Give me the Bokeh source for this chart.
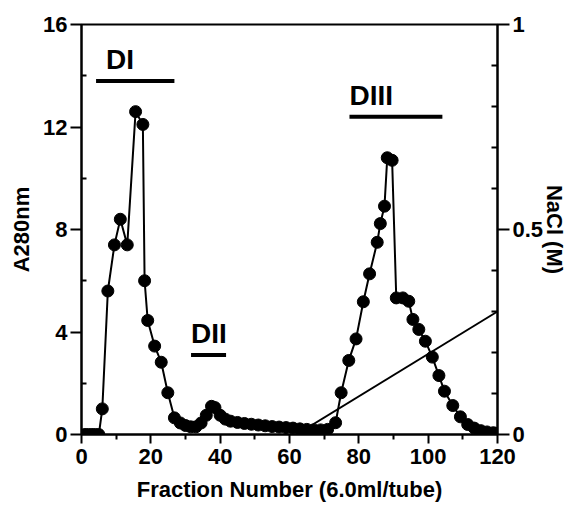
from bokeh.plotting import figure
from bokeh.models import Range1d, LinearAxis, FixedTicker, ColumnDataSource
from bokeh.core.properties import value
from bokeh.embed import file_html
from bokeh.resources import INLINE

# ---- data ----
fraction = [1, 2, 3, 4, 5, 6, 7.6, 9.5, 11.2, 13.2, 15.6, 17.7, 18.2, 19.1, 21.1, 23, 24.9, 26.8,
            28.5, 30, 31.5, 33, 34.5, 36, 37.5, 38.5, 40, 41.5, 43, 45, 47, 49, 51, 53, 55, 57,
            59, 61, 63, 65, 67, 69, 71,
            73.3, 74.9, 77.1, 79.2, 81.3, 83.1, 85.3, 86.2, 87.4, 88.2, 89.6, 90.8, 92.7, 94.4,
            95.6, 97.3, 99.2, 101.2, 103.1, 104.7, 107.1, 109.3, 111.4, 113.3, 115.2, 117, 118.8, 120]
a280 = [0, 0, 0, 0, 0, 1.0, 5.6, 7.4, 8.4, 7.4, 12.6, 12.1, 6.0, 4.45, 3.45, 2.82, 1.63, 0.65,
        0.45, 0.35, 0.3, 0.3, 0.45, 0.75, 1.1, 1.05, 0.75, 0.6, 0.52, 0.47, 0.43, 0.4, 0.37, 0.34,
        0.31, 0.29, 0.27, 0.25, 0.22, 0.2, 0.18, 0.18, 0.2,
        0.46, 1.63, 2.89, 3.73, 5.18, 6.27, 7.5, 8.23, 8.91, 10.8, 10.7, 5.33, 5.33, 5.2,
        4.49, 4.1, 3.64, 3.02, 2.3, 1.69, 1.13, 0.69, 0.39, 0.25, 0.15, 0.1, 0.07, 0.05]

nacl_fraction = [62, 120]
nacl_molar = [0.0, 0.3]

peak_names = ["DI", "DII", "DIII"]
peak_start = [4.2, 31.6, 77.3]
peak_end = [26.8, 41.7, 104.1]
peak_level = [13.8, 3.1, 12.4]

left_ticks = [0, 4, 8, 12, 16]
left_minor = [2, 6, 10, 14]
right_ticks = [0, 0.5, 1]
right_minor = [0.1, 0.2, 0.3, 0.4, 0.6, 0.7, 0.8, 0.9]
bottom_ticks = [0, 20, 40, 60, 80, 100, 120]
bottom_minor = [10, 30, 50, 70, 90, 110]

# label styling (pixel nudges, not data)
label_dx = [10, 0, 0]

FONT = "Liberation Sans"

p = figure(frame_width=416, frame_height=410, output_backend="svg", toolbar_location=None,
           x_range=Range1d(0, 120), y_range=Range1d(0, 16),
           min_border_left=81, min_border_right=60, min_border_top=24, min_border_bottom=60)
p.extra_y_ranges = {"nacl": Range1d(0, 1)}
p.grid.visible = False
p.outline_line_color = "black"
p.outline_line_width = 2
p.background_fill_color = "white"
p.border_fill_color = "white"

def style_axis(ax, tout, tin, mout, min_):
    ax.axis_line_width = 2
    ax.major_tick_line_width = 2
    ax.minor_tick_line_width = 2
    ax.major_tick_out = tout
    ax.major_tick_in = tin
    ax.minor_tick_out = mout
    ax.minor_tick_in = min_
    ax.major_label_text_font = FONT
    ax.major_label_text_font_style = "bold"
    ax.major_label_text_font_size = "22px"
    ax.major_label_text_color = "black"
    ax.axis_label_text_font = FONT
    ax.axis_label_text_font_style = "bold"
    ax.axis_label_text_font_size = "22px"
    ax.axis_label_text_color = "black"

xa = p.xaxis[0]
xa.ticker = FixedTicker(ticks=bottom_ticks, minor_ticks=bottom_minor)
xa.axis_label = "Fraction Number (6.0ml/tube)"
style_axis(xa, 9, 0, 5, 0)
xa.major_label_standoff = 5
xa.axis_label_standoff = 10

ya = p.yaxis[0]
ya.ticker = FixedTicker(ticks=left_ticks, minor_ticks=left_minor)
ya.axis_label = "A280nm"
style_axis(ya, 11, 0, 0, 5)
ya.major_label_standoff = 3
ya.axis_label_standoff = 6

ra = LinearAxis(y_range_name="nacl", axis_label="NaCl (M)",
                ticker=FixedTicker(ticks=right_ticks, minor_ticks=right_minor))
style_axis(ra, 12, 0, 0, 6)
ra.major_label_overrides = {0: "0", 0.5: "0.5", 1: "1"}
ra.major_label_standoff = 3
ra.axis_label_standoff = -4
p.add_layout(ra, "right")

# salt gradient
p.line(nacl_fraction, nacl_molar, y_range_name="nacl", line_color="black", line_width=2)

# absorbance profile
p.line(fraction, a280, line_color="black", line_width=2)
p.scatter(fraction, a280, size=12, fill_color="black", line_color="black")

# pooled fraction bars and labels
p.segment(x0=peak_start, y0=peak_level, x1=peak_end, y1=peak_level,
          line_color="black", line_width=4)
lab = ColumnDataSource(dict(x=peak_start, y=peak_level, t=peak_names, dx=label_dx))
p.text(x="x", y="y", text="t", x_offset="dx", source=lab, text_font=value(FONT),
       text_font_style="bold", text_font_size="28px", text_color="black",
       text_baseline="bottom", y_offset=-6)

open("out.html", "w").write(file_html(p, INLINE))
